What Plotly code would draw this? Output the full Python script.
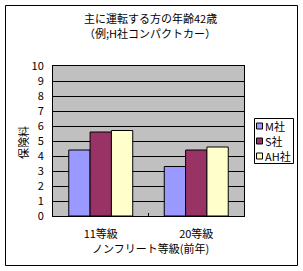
import plotly.graph_objects as go

categories = ["11等級", "20等級"]
series_names = ["M社", "S社", "AH社"]
m_vals = [4.4, 3.3]
s_vals = [5.6, 4.4]
ah_vals = [5.7, 4.6]
colors = ["#9999FF", "#993366", "#FFFFCC"]
title_lines = ["主に運転する方の年齢42歳", "（例;H社コンパクトカー）"]
y_title = "保険料"
x_title = "ノンフリート等級(前年)"

FONT = "Noto Sans CJK JP"
W, H = 303, 271
L, R, T, B = 53, 244, 66, 216  # plot area in px

fig = go.Figure()
for name, vals, c in zip(series_names, [m_vals, s_vals, ah_vals], colors):
    fig.add_trace(go.Bar(x=categories, y=vals, name=name,
                         marker=dict(color=c, line=dict(color="black", width=1))))

def px2x(px):
    return (px - L) / (R - L)

def py2y(py):
    return (B - py) / (B - T)

def txt(text, px, py, xanchor="center", angle=0):
    return dict(text=text, xref="paper", yref="paper", x=px2x(px), y=py2y(py),
                xanchor=xanchor, yanchor="middle", showarrow=False, textangle=angle,
                font=dict(family=FONT, size=11, color="black"))

shapes = [
    dict(type="rect", xref="paper", yref="paper",
         x0=px2x(5.5), x1=px2x(297.5), y0=py2y(265.5), y1=py2y(5.5),
         line=dict(color="black", width=1), fillcolor="rgba(0,0,0,0)", layer="below"),
    dict(type="rect", xref="paper", yref="paper",
         x0=px2x(254.5), x1=px2x(293.5), y0=py2y(163.5), y1=py2y(118.5),
         line=dict(color="black", width=1), fillcolor="white"),
]
annotations = [
    txt(title_lines[0], 150, 18),
    txt(title_lines[1], 150, 33),
    txt(y_title, 23, 143, angle=-90),
    txt(x_title, 150, 248),
]
for i, (name, c) in enumerate(zip(series_names, colors)):
    cy = 126 + 15 * i
    shapes.append(dict(type="rect", xref="paper", yref="paper",
                       x0=px2x(256.5), x1=px2x(262.5), y0=py2y(cy + 3), y1=py2y(cy - 3),
                       line=dict(color="black", width=1), fillcolor=c))
    annotations.append(txt(name, 263, cy, xanchor="left"))

fig.update_layout(
    width=W, height=H,
    margin=dict(l=L, r=W - R, t=T, b=H - B),
    paper_bgcolor="white", plot_bgcolor="#C0C0C0",
    showlegend=False,
    bargap=0.33, bargroupgap=0,
    font=dict(family=FONT, size=11, color="black"),
    shapes=shapes, annotations=annotations,
    xaxis=dict(showline=True, linecolor="black", linewidth=1, mirror=True,
               ticks="inside", ticklen=3, tickcolor="black", tickson="boundaries",
               ticklabelstandoff=8,
               tickfont=dict(family=FONT, size=11)),
    yaxis=dict(range=[0, 10], dtick=1, showline=True, linecolor="black", linewidth=1, mirror=True,
               showgrid=True, gridcolor="black", gridwidth=1, zeroline=False,
               ticks="", ticklabelstandoff=6,
               tickfont=dict(family=FONT, size=11)),
)

fig.write_html("out.html")
